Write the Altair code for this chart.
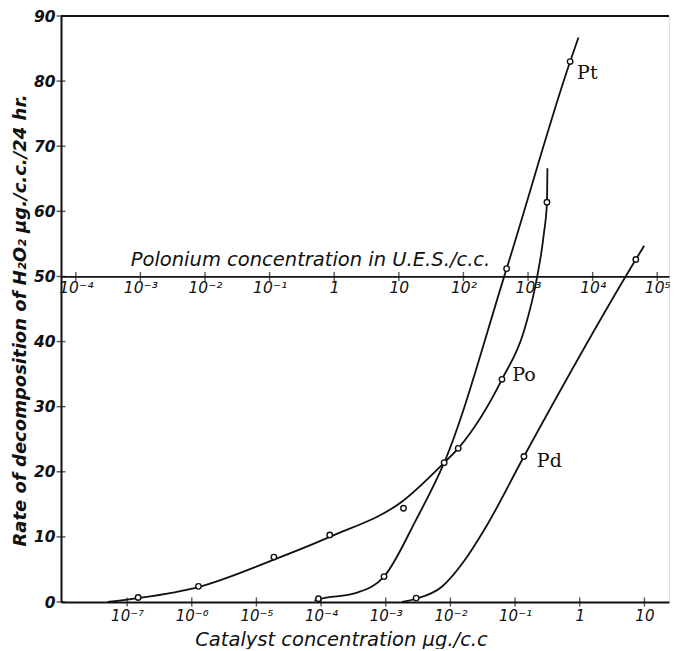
import math
import altair as alt
import pandas as pd

# ---------------- data ----------------
# catalyst concentration (µg./c.c) and rate of decomposition
pt_pts_x = [9.1e-5, 9.4e-4, 8.0e-3, 7.4e-2, 0.71]
pt_pts_y = [0.5, 3.9, 21.4, 51.2, 83.0]
pt_curve_x = [7.9e-5, 9.1e-5, 3.5e-4, 9.4e-4, 2.9e-3, 8.0e-3, 7.4e-2, 0.71, 0.955]
pt_curve_y = [0.2, 0.4, 1.4, 3.9, 12.5, 21.4, 51.2, 83.0, 86.7]

po_pts_x = [1.48e-7, 1.27e-6, 1.86e-5, 1.36e-4, 1.88e-3, 1.32e-2, 6.27e-2, 0.311]
po_pts_y = [0.7, 2.4, 6.9, 10.3, 14.4, 23.6, 34.2, 61.4]
po_curve_x = [5.0e-8, 1.48e-7, 1.27e-6, 1.86e-5, 1.36e-4, 1.88e-3, 8.0e-3, 1.32e-2,
              6.27e-2, 0.138, 0.219, 0.279, 0.311, 0.316]
po_curve_y = [0.0, 0.6, 2.3, 6.5, 10.0, 15.6, 21.4, 23.6, 34.2, 41.7, 49.9, 56.6, 61.4, 66.6]

pd_pts_x = [2.95e-3, 0.137, 7.36]
pd_pts_y = [0.6, 22.35, 52.6]
pd_curve_x = [1.78e-3, 2.95e-3, 7.3e-3, 1.66e-2, 3.39e-2, 0.137, 7.36, 9.9]
pd_curve_y = [0.0, 0.5, 2.3, 6.4, 11.2, 22.35, 52.6, 54.7]

label_text = ["Pt", "Po", "Pd"]
label_x = [0.91, 0.09, 0.217]
label_y = [81.3, 34.8, 21.7]

cat_ticks = [1e-7, 1e-6, 1e-5, 1e-4, 1e-3, 1e-2, 1e-1, 1, 10]
cat_tick_labels = ["10⁻⁷", "10⁻⁶", "10⁻⁵", "10⁻⁴", "10⁻³", "10⁻²", "10⁻¹", "1", "10"]
ues_ticks = [1e-4, 1e-3, 1e-2, 1e-1, 1, 10, 1e2, 1e3, 1e4, 1e5]
ues_tick_labels = ["10⁻⁴", "10⁻³", "10⁻²", "10⁻¹", "1", "10", "10²", "10³", "10⁴", "10⁵"]
y_ticks = [0, 10, 20, 30, 40, 50, 60, 70, 80, 90]

# ---------------- layout ----------------
W, H = 608, 586
INK = "#111111"
SANS = "DejaVu Sans"


def label_expr(ticks, labels):
    expr = "''"
    for t, lab in reversed(list(zip(ticks, labels))):
        e = int(round(math.log10(t)))
        expr = f"(round(log(datum.value)/LN10) == {e} ? '{lab}' : {expr})"
    return expr


xscale = alt.Scale(type="log", domain=[9.5e-9, 24], nice=False)
yscale = alt.Scale(domain=[0, 90], nice=False, zero=False)

xaxis = alt.Axis(
    values=cat_ticks, labelExpr=label_expr(cat_ticks, cat_tick_labels),
    ticks=False, grid=False, domain=True, domainColor=INK, domainWidth=2,
    labelFont=SANS, labelFontSize=15, labelFontStyle="italic", labelColor=INK,
    labelPadding=6, labelFlush=False, labelOverlap=False,
    title="Catalyst concentration µg./c.c", titleFont=SANS, titleFontSize=19.5,
    titleFontStyle="italic", titleFontWeight="normal", titleColor=INK,
    titleX=280, titleY=43, titleAlign="center", titleBaseline="alphabetic",
)
yaxis = alt.Axis(
    values=y_ticks, ticks=False, grid=False, domain=True, domainColor=INK, domainWidth=2,
    labelFont=SANS, labelFontSize=15.5, labelFontStyle="italic",
    labelFontWeight="bold", labelColor=INK, labelPadding=6, labelFlush=False,
    title="Rate of decomposition of H₂O₂ µg./c.c./24 hr.", titleFont=SANS,
    titleFontSize=18, titleFontStyle="italic", titleFontWeight="bold", titleColor=INK,
    titleAngle=270, titleX=-41, titleY=304, titleAlign="center", titleBaseline="middle",
)

X = alt.X("x:Q", scale=xscale, axis=xaxis)
Y = alt.Y("y:Q", scale=yscale, axis=yaxis)

curves = pd.concat([
    pd.DataFrame({"x": pt_curve_x, "y": pt_curve_y, "s": "Pt"}),
    pd.DataFrame({"x": po_curve_x, "y": po_curve_y, "s": "Po"}),
    pd.DataFrame({"x": pd_curve_x, "y": pd_curve_y, "s": "Pd"}),
])
points = pd.concat([
    pd.DataFrame({"x": pt_pts_x, "y": pt_pts_y, "s": "Pt"}),
    pd.DataFrame({"x": po_pts_x, "y": po_pts_y, "s": "Po"}),
    pd.DataFrame({"x": pd_pts_x, "y": pd_pts_y, "s": "Pd"}),
])
labels = pd.DataFrame({"x": label_x, "y": label_y, "t": label_text})

lines = alt.Chart(curves).mark_line(
    interpolate="monotone", color=INK, strokeWidth=1.8
).encode(x=X, y=Y, detail="s:N")

markers = alt.Chart(points).mark_circle(
    fill="white", stroke=INK, strokeWidth=1.4, size=30, opacity=1
).encode(x=X, y=Y)

text = alt.Chart(labels).mark_text(
    align="left", baseline="middle", font="DejaVu Serif", fontSize=19, color=INK
).encode(x=X, y=Y, text="t:N")

xticks = alt.Chart(pd.DataFrame({"x": cat_ticks})).mark_tick(
    orient="vertical", size=9, thickness=1.4, color=INK
).encode(x=X, y=alt.datum(0))

yticks = alt.Chart(pd.DataFrame({"y": y_ticks})).mark_tick(
    orient="horizontal", size=9, thickness=1.4, color=INK
).encode(x=alt.value(0), y=Y)

top_border = alt.Chart(pd.DataFrame({"y": [90]})).mark_rule(
    color=INK, strokeWidth=2
).encode(y=Y)

main = alt.layer(lines, markers, text, xticks, yticks, top_border)

polonium = alt.Chart(pd.DataFrame({"u": ues_ticks})).mark_tick(
    orient="vertical", size=9, thickness=1.4, color=INK
).encode(
    x=alt.X("u:Q",
            scale=alt.Scale(type="log", domain=[5.9e-5, 1.52e5], nice=False),
            axis=alt.Axis(
                orient="bottom", offset=-H * 50 / 90, values=ues_ticks,
                labelExpr=label_expr(ues_ticks, ues_tick_labels),
                ticks=False, grid=False, domain=True, domainColor=INK, domainWidth=1.8,
                labelFont=SANS, labelFontSize=15.5, labelFontStyle="italic", labelColor=INK,
                labelPadding=4, labelFlush=False, labelOverlap=False,
                title="Polonium concentration in U.E.S./c.c.", titleFont=SANS,
                titleFontSize=19.5, titleFontStyle="italic", titleFontWeight="normal",
                titleColor=INK, titleX=249, titleY=-11, titleAlign="center",
                titleBaseline="alphabetic",
            )),
    y=alt.datum(50),
)

chart = alt.layer(main, polonium).resolve_scale(x="independent").properties(
    width=W, height=H,
    autosize=alt.AutoSizeParams(type="none"),
    padding={"left": 53, "top": 8, "right": 1, "bottom": 47},
).configure_view(stroke=None).configure(background="white")

chart.save("out.html", embed_options={"renderer": "svg", "actions": False})
